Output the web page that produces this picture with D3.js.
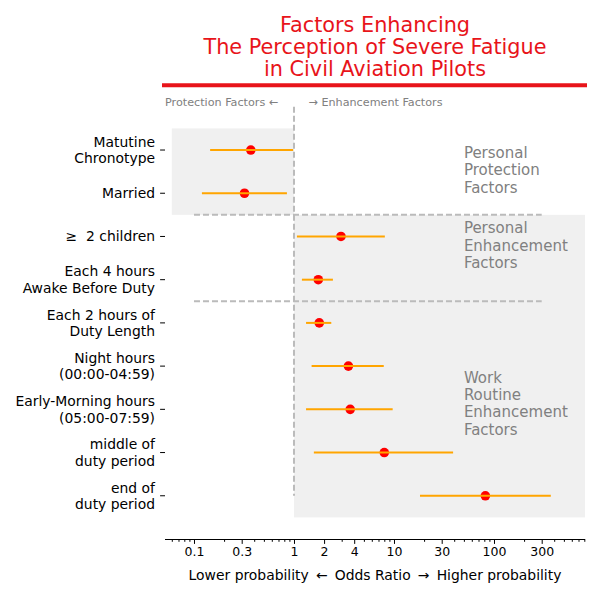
<!DOCTYPE html>
<html>
<head>
<meta charset="utf-8">
<script src="https://cdn.jsdelivr.net/npm/d3@7"></script>
<style>
body { margin: 0; background: #fff; }
svg { font-family: "DejaVu Sans", sans-serif; }
text { white-space: pre; }
</style>
</head>
<body>
<svg id="chart" width="600" height="600"></svg>
<script>
// ---- data ----
const categories = [
  "Matutine\nChronotype",
  "Married",
  "\u2265  2 children",
  "Each 4 hours\nAwake Before Duty",
  "Each 2 hours of\nDuty Length",
  "Night hours\n(00:00-04:59)",
  "Early-Morning hours\n(05:00-07:59)",
  "middle of\nduty period",
  "end of\nduty period"
];
const oddsRatio = [0.37, 0.32, 2.95, 1.75, 1.79, 3.5, 3.65, 8.0, 82];
const ciLower   = [0.145, 0.12, 1.07, 1.2, 1.32, 1.5, 1.32, 1.58, 18.2];
const ciUpper   = [0.98, 0.85, 8.1, 2.45, 2.36, 7.9, 9.7, 39, 370];
const tickValues = [0.1, 0.3, 1, 2, 4, 10, 30, 100, 300];
const tickLabels = ["0.1", "0.3", "1", "2", "4", "10", "30", "100", "300"];
const groupLabels = ["Personal\nProtection\nFactors", "Personal\nEnhancement\nFactors", "Work\nRoutine\nEnhancement\nFactors"];
const titleLines = ["Factors Enhancing", "The Perception of Severe Fatigue", "in Civil Aviation Pilots"];
const xLabel = "Lower probability \u2009\u2190\u2009 Odds Ratio \u2009\u2192\u2009 Higher probability";
const sideLabels = ["Protection Factors \u2190", "\u2192 Enhancement Factors"];

(function () {
// ---- layout ----
const svg = d3.select("#chart");
const pLeft = 165, pRight = 585, pTop = 106.8, pBottom = 539;
const x = d3.scaleLog().domain([0.0513, 813]).range([pLeft, pRight]);
const y = d3.scaleLinear().domain([-1, 9]).range([pTop, pBottom]);
const red = "#e8141a", grayTxt = "#808080", bg = "#f0f0f0", dashCol = "#bbbbbb";

// background regions
svg.append("rect").attr("x", x(0.06)).attr("y", y(-0.5))
  .attr("width", x(1) - x(0.06)).attr("height", y(1.5) - y(-0.5)).attr("fill", bg);
svg.append("rect").attr("x", x(1)).attr("y", y(1.5))
  .attr("width", pRight - x(1)).attr("height", y(8.5) - y(1.5)).attr("fill", bg);

// dashed lines
svg.append("line").attr("x1", x(1)).attr("x2", x(1)).attr("y1", pTop).attr("y2", y(8))
  .attr("stroke", dashCol).attr("stroke-width", 2).attr("stroke-dasharray", "6,3");
[1.5, 3.5].forEach(v => {
  svg.append("line").attr("x1", x(0.1)).attr("x2", x(300)).attr("y1", y(v)).attr("y2", y(v))
    .attr("stroke", dashCol).attr("stroke-width", 2).attr("stroke-dasharray", "6,3");
});

// markers then error bars
const idx = d3.range(categories.length);
svg.append("g").selectAll("circle").data(idx).join("circle")
  .attr("cx", i => x(oddsRatio[i])).attr("cy", i => y(i)).attr("r", 4.8).attr("fill", "#ff0000");
svg.append("g").selectAll("line").data(idx).join("line")
  .attr("x1", i => x(ciLower[i])).attr("x2", i => x(ciUpper[i]))
  .attr("y1", i => y(i)).attr("y2", i => y(i))
  .attr("stroke", "orange").attr("stroke-width", 2);

// x axis
const minorTicks = [];
for (let e = -2; e <= 2; e++) for (let k = 1; k <= 9; k++) {
  const v = k * Math.pow(10, e);
  if (v >= 0.0513 && v <= 813 && !tickValues.some(t => Math.abs(t - v) / v < 1e-6)) minorTicks.push(v);
}
const xAxisG = svg.append("g").attr("transform", `translate(0,${pBottom})`);
xAxisG.call(d3.axisBottom(x).tickValues(minorTicks).tickSize(2.8).tickFormat(""));
xAxisG.call(g => g.select(".domain").remove());
const xMajor = svg.append("g").attr("transform", `translate(0,${pBottom})`)
  .call(d3.axisBottom(x).tickValues(tickValues).tickSize(4.9).tickPadding(3.5)
    .tickFormat((d, i) => tickLabels[i]).tickSizeOuter(0));
xMajor.select(".domain").attr("stroke", "#000").attr("stroke-width", 1)
  .attr("d", `M${pLeft},0.5H${pRight}`);
xMajor.selectAll("text").attr("font-size", 12.5).attr("fill", "#000").attr("font-family", "DejaVu Sans");
svg.selectAll(".tick line").attr("stroke", "#000");

svg.append("text").attr("x", (pLeft + pRight) / 2).attr("y", 580)
  .attr("text-anchor", "middle").attr("font-size", 13.9).text(xLabel);

// y axis ticks and labels
const yg = svg.append("g");
idx.forEach(i => {
  yg.append("line").attr("x1", pLeft - 4.9).attr("x2", pLeft).attr("y1", y(i)).attr("y2", y(i))
    .attr("stroke", "#000");
  const lines = categories[i].split("\n");
  const lh = 16.5;
  const t = yg.append("text").attr("text-anchor", "end").attr("font-size", 13.9).attr("fill", "#000")
    .attr("xml:space", "preserve");
  lines.forEach((s, j) => {
    t.append("tspan").attr("x", 155)
      .attr("y", y(i) + (j - (lines.length - 1) / 2) * lh)
      .attr("dy", "0.36em").text(s);
  });
});

// group annotations
const groupY = [0.46, 2.2, 5.86];
groupLabels.forEach((g, k) => {
  const lines = g.split("\n");
  const lh = 17.4;
  const t = svg.append("text").attr("font-size", 15).attr("fill", grayTxt);
  lines.forEach((s, j) => {
    t.append("tspan").attr("x", x(50))
      .attr("y", y(groupY[k]) + (j - (lines.length - 1) / 2) * lh)
      .attr("dy", "0.36em").text(s);
  });
});

// side labels
svg.append("text").attr("x", pLeft).attr("y", 102).attr("dy", "0.36em")
  .attr("font-size", 11.2).attr("fill", grayTxt).text(sideLabels[0]);
svg.append("text").attr("x", x(1) + 14.5).attr("y", 102).attr("dy", "0.36em")
  .attr("font-size", 11.2).attr("fill", grayTxt).text(sideLabels[1]);

// title
titleLines.forEach((s, j) => {
  svg.append("text").attr("x", (pLeft + pRight) / 2).attr("y", 31.5 + j * 22.4)
    .attr("text-anchor", "middle").attr("font-size", 20.8).attr("fill", red).text(s);
});
svg.append("line").attr("x1", 162).attr("x2", 587).attr("y1", 85.3).attr("y2", 85.3)
  .attr("stroke", red).attr("stroke-width", 4);
})();
</script>
</body>
</html>
